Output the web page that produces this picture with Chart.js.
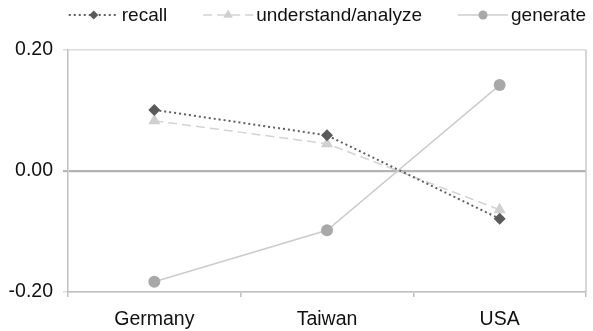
<!DOCTYPE html>
<html>
<head>
  <title>recall / understand / generate by country</title>
  <style>
    html, body { margin: 0; padding: 0; background: #fff; }
    #wrap { width: 593px; height: 331px; }
  </style>
</head>
<body>
  <div id="wrap"><canvas id="chart" width="593" height="331"></canvas></div>

  <script src="https://cdn.jsdelivr.net/npm/chart.js@4.4.0/dist/chart.umd.js"></script>
  <script>
    // data
    const countries = ['Germany', 'Taiwan', 'USA'];
    const recall = [0.101, 0.059, -0.079];
    const understandAnalyze = [0.083, 0.045, -0.064];
    const generate = [-0.183, -0.098, 0.142];
    const yTicks = [-0.20, 0.00, 0.20];

    const FONT = "'Liberation Sans', Arial, sans-serif";

    // legend with line sample + marker, like the original
    const legendPlugin = {
      id: 'lineLegend',
      afterDraw(chart) {
        const ctx = chart.ctx;
        const sets = chart.data.datasets;
        ctx.save();
        ctx.font = '19px ' + FONT;
        const sampleW = 50, gapText = 3, gapItem = 36;
        const widths = sets.map(d => sampleW + gapText + ctx.measureText(d.label).width);
        const total = widths.reduce((a, b) => a + b, 0) + gapItem * (sets.length - 1);
        let x = chart.chartArea.right - total;
        const y = 15;
        sets.forEach((d, i) => {
          ctx.strokeStyle = d.borderColor;
          ctx.lineWidth = d.borderWidth;
          ctx.setLineDash(d.borderDash || []);
          ctx.beginPath();
          ctx.moveTo(x, y);
          ctx.lineTo(x + sampleW, y);
          ctx.stroke();
          ctx.setLineDash([]);
          ctx.fillStyle = d.pointBackgroundColor;
          ctx.strokeStyle = d.pointBackgroundColor;
          Chart.helpers.drawPoint(ctx, {
            pointStyle: d.pointStyle,
            radius: d.pointRadius - 1.5,
            rotation: 0,
            borderWidth: 0
          }, x + sampleW / 2, y);
          ctx.fillStyle = '#111';
          ctx.textBaseline = 'middle';
          ctx.textAlign = 'left';
          ctx.fillText(d.label, x + sampleW + gapText, y + 1);
          x += widths[i] + gapItem;
        });
        ctx.restore();
      }
    };

    // right edge of the plot frame
    const framePlugin = {
      id: 'frame',
      beforeDatasetsDraw(chart) {
        const { ctx, chartArea } = chart;
        ctx.save();
        ctx.strokeStyle = '#c8c8c8';
        ctx.lineWidth = 1.5;
        ctx.beginPath();
        ctx.moveTo(chartArea.right, chartArea.top);
        ctx.lineTo(chartArea.right, chartArea.bottom);
        ctx.stroke();
        ctx.restore();
      }
    };

    new Chart(document.getElementById('chart'), {
      type: 'line',
      data: {
        labels: countries,
        datasets: [
          {
            label: 'recall',
            data: recall,
            borderColor: '#606060',
            borderWidth: 2,
            borderDash: [2, 3],
            pointStyle: 'rectRot',
            pointRadius: 6,
            pointBackgroundColor: '#5a5a5a',
            pointBorderWidth: 0
          },
          {
            label: 'understand/analyze',
            data: understandAnalyze,
            borderColor: '#d4d4d4',
            borderWidth: 1.5,
            borderDash: [9, 5],
            pointStyle: 'triangle',
            pointRadius: 7,
            pointBackgroundColor: '#d0d0d0',
            pointBorderWidth: 0
          },
          {
            label: 'generate',
            data: generate,
            borderColor: '#cccccc',
            borderWidth: 1.5,
            pointStyle: 'circle',
            pointRadius: 6,
            pointBackgroundColor: '#a8a8a8',
            pointBorderWidth: 0
          }
        ]
      },
      options: {
        responsive: false,
        animation: false,
        layout: { padding: { top: 50, right: 5, left: 0, bottom: 0 } },
        plugins: {
          legend: { display: false },
          tooltip: { enabled: false }
        },
        scales: {
          x: {
            offset: true,
            grid: {
              offset: true,
              drawOnChartArea: false,
              drawTicks: true,
              tickLength: 5,
              color: '#c0c0c0',
              lineWidth: 1.5
            },
            border: { color: '#c0c0c0', width: 1.5 },
            ticks: {
              color: '#111',
              font: { family: FONT, size: 19.5 },
              padding: 11
            },
            afterFit(scale) { scale.height = 39; }
          },
          y: {
            min: yTicks[0],
            max: yTicks[yTicks.length - 1],
            afterBuildTicks(scale) { scale.ticks = yTicks.map(v => ({ value: v })); },
            grid: {
              color: ctx => ctx.tick && ctx.tick.value === 0 ? '#b4b4b4' : '#dcdcdc',
              lineWidth: ctx => ctx.tick && ctx.tick.value === 0 ? 2.2 : 1.5,
              tickLength: 5
            },
            border: { color: '#c0c0c0', width: 1.5 },
            ticks: {
              color: '#111',
              font: { family: FONT, size: 19.5 },
              padding: 10,
              callback: v => Number(v).toFixed(2)
            },
            afterFit(scale) { scale.width = 68; }
          }
        }
      },
      plugins: [framePlugin, legendPlugin]
    });
  </script>
</body>
</html>
